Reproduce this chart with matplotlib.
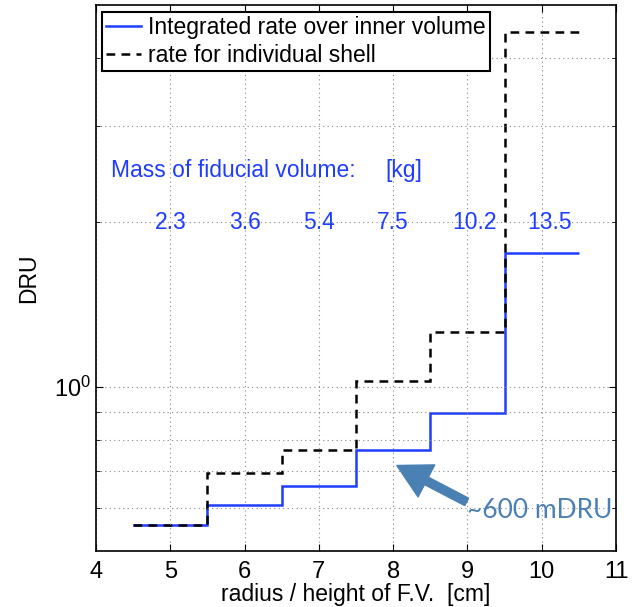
import numpy as np
import matplotlib.pyplot as plt

plt.rcParams['font.family'] = ['Liberation Sans', 'DejaVu Sans']
plt.rcParams['mathtext.fontset'] = 'custom'
plt.rcParams['mathtext.rm'] = 'Liberation Sans'

# bin edges along radius / height [cm]
edges = [4.5, 5.5, 6.5, 7.5, 8.5, 9.5, 10.5]
integrated_rate = [0.557, 0.607, 0.659, 0.764, 0.894, 1.754]
shell_rate = [0.557, 0.696, 0.767, 1.024, 1.26, 4.46]

# fiducial masses [kg] and where they are written
mass_x = [5.0, 6.0, 7.0, 8.0, 9.1, 10.1]
mass_labels = ['2.3', '3.6', '5.4', '7.5', '10.2', '13.5']

blue = '#1f3dff'
arrow_col = '#4a80b4'

fig = plt.figure(figsize=(6.4, 6.07), dpi=100)
ax = fig.add_axes([0.15, 0.0923, 0.8125, 0.8995])

ax.stairs(integrated_rate, edges, baseline=None, color=blue, lw=1.8,
          label='Integrated rate over inner volume')
ax.stairs(shell_rate, edges, baseline=None, color='black', lw=1.8,
          linestyle=(0, (3.5, 2.5)), label='rate for individual shell')

ax.set_yscale('log')
ax.set_xlim(4, 11)
ax.set_ylim(0.5, 5)
ax.set_xticks(range(4, 12))
ax.set_yticks([1])
ax.set_yticklabels([r'$\mathrm{10^0}$'])
ax.set_yticks([0.6, 0.7, 0.8, 0.9, 2, 3, 4], minor=True)
ax.yaxis.set_minor_formatter(plt.NullFormatter())
ax.tick_params(which='both', direction='in', top=True, right=True, labelsize=17)
ax.tick_params(axis='x', pad=7)
ax.tick_params(which='major', length=5)
ax.tick_params(which='minor', length=3)
ax.grid(True, which='both', linestyle=(0, (1, 3)), color='#888888', lw=0.8)
for s in ax.spines.values():
    s.set_linewidth(1.2)

ax.set_xlabel('radius / height of F.V.  [cm]', fontsize=16.5, labelpad=0)
ax.set_ylabel('DRU', fontsize=16.5, labelpad=10)

ax.text(4.2, 2.49, 'Mass of fiducial volume:', color=blue, fontsize=16.5, va='center')
ax.text(7.9, 2.49, '[kg]', color=blue, fontsize=16.5, va='center')
for x, lab in zip(mass_x, mass_labels):
    ax.text(x, 2.0, lab, color=blue, fontsize=16.5, ha='center', va='center')

ax.annotate('', xy=(8.05, 0.717), xytext=(8.99, 0.615),
            arrowprops=dict(arrowstyle='simple,head_width=1.3,head_length=1.2,tail_width=0.3',
                            color=arrow_col, mutation_scale=20, shrinkA=0, shrinkB=0))
ax.text(8.99, 0.593, '~600 mDRU', color=arrow_col, fontsize=19, va='center',
        family=['Lato', 'DejaVu Sans'])

leg = ax.legend(loc='upper left', bbox_to_anchor=(0.011, 0.988), borderaxespad=0,
                fontsize=16.5, fancybox=False, framealpha=1, edgecolor='black',
                handlelength=1.5, handletextpad=0.3, borderpad=0.2, labelspacing=0.2)
leg.get_frame().set_linewidth(1.5)

fig.savefig('out.png')
